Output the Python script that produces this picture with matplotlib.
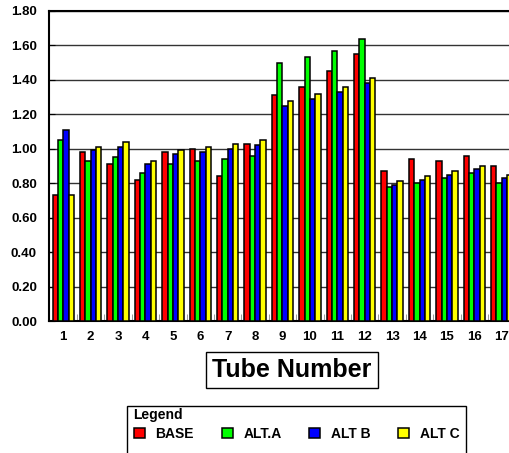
import numpy as np
import matplotlib
matplotlib.use("Agg")
import matplotlib.pyplot as plt
from matplotlib.patches import Rectangle

plt.rcParams['font.family'] = ['Liberation Sans', 'DejaVu Sans']
plt.rcParams['font.weight'] = 'bold'

tubes = [str(i) for i in range(1, 18)]
base = [0.73, 0.98, 0.91, 0.82, 0.98, 1.00, 0.84, 1.03, 1.31, 1.36, 1.45, 1.55,
        0.87, 0.94, 0.93, 0.96, 0.90]
alt_a = [1.05, 0.93, 0.95, 0.86, 0.91, 0.93, 0.94, 0.96, 1.50, 1.53, 1.57, 1.64,
         0.78, 0.80, 0.83, 0.86, 0.80]
alt_b = [1.11, 0.99, 1.01, 0.91, 0.97, 0.98, 1.00, 1.02, 1.25, 1.29, 1.33, 1.38,
         0.79, 0.82, 0.85, 0.88, 0.83]
alt_c = [0.73, 1.01, 1.04, 0.93, 0.99, 1.01, 1.03, 1.05, 1.28, 1.32, 1.36, 1.41,
         0.81, 0.84, 0.87, 0.90, 0.85]
series = [("BASE", base, "#ff0000"), ("ALT.A", alt_a, "#00ff00"),
          ("ALT B", alt_b, "#0000ff"), ("ALT C", alt_c, "#ffff00")]
yticks = np.arange(0, 1.81, 0.2)

W, H = 510, 453
fig = plt.figure(figsize=(W / 100, H / 100), dpi=100)
ax = fig.add_axes([49.5 / W, (H - 321) / H, 466 / W, 310 / H])

x = np.arange(1, 18)
bw = 0.195
for i, (name, vals, col) in enumerate(series):
    ax.bar(x + (i - 1.5) * bw, vals, bw, color=col, edgecolor='black',
           linewidth=1.1, label=name, zorder=3)

ax.set_xlim(0.5, 17.5)
ax.set_ylim(0, 1.8)
ax.set_yticks(yticks)
ax.set_yticklabels([f"{v:.2f}" for v in yticks], fontsize=9.5, fontweight='bold')
ax.set_xticks(x)
ax.set_xticklabels(tubes, fontsize=9.5, fontweight='bold')
ax.set_xticks(np.arange(1.5, 17.5, 1), minor=True)
ax.tick_params(axis='x', which='major', length=0, pad=7)
ax.tick_params(axis='x', which='minor', length=5, direction='in', color='#888888')
ax.tick_params(axis='y', which='major', length=4, direction='in', pad=9)
ax.grid(axis='y', color='#333333', linewidth=1.0, zorder=0)
for s in ax.spines.values():
    s.set_linewidth(1.5)

fig.text(292 / W, 1 - 370 / H, "Tube Number", fontsize=18, fontweight='bold',
         ha='center', va='center',
         bbox=dict(boxstyle='square,pad=0.25', fc='white', ec='black', lw=1.0))

fig.patches.append(Rectangle((127 / W, -0.05), (466 - 127) / W, 0.05 + (H - 406) / H,
                             transform=fig.transFigure, fill=False,
                             edgecolor='black', linewidth=1.0))
fig.text(133 / W, 1 - 415 / H, "Legend", fontsize=10, fontweight='bold',
         ha='left', va='center')
leg = fig.legend(loc='center left', bbox_to_anchor=(134 / W, 1 - 434 / H),
                 ncol=4, frameon=False, fontsize=10, handlelength=0.8,
                 handleheight=0.8, handletextpad=0.75, columnspacing=2.0,
                 borderpad=0, borderaxespad=0)
for t in leg.get_texts():
    t.set_fontweight('bold')

fig.savefig("out.png", dpi=100)
